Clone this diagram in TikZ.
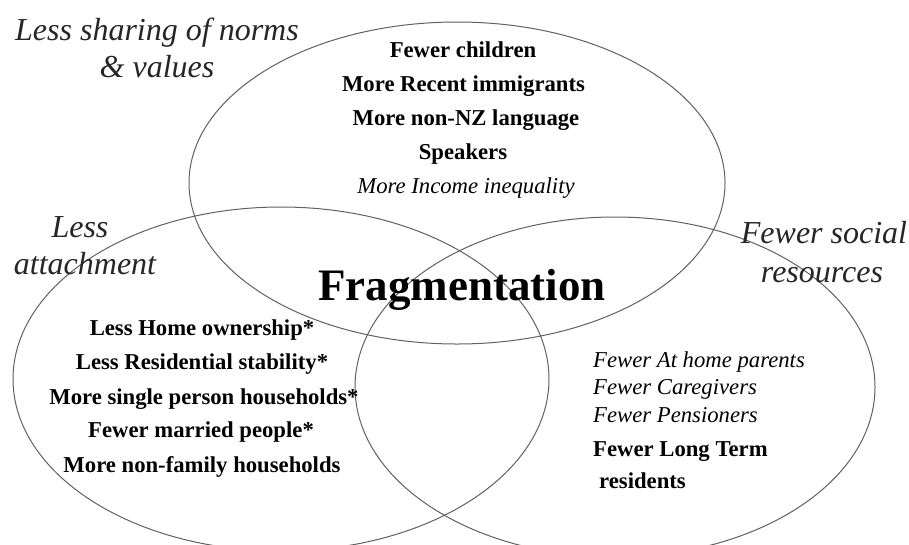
\documentclass[tikz,border=0pt]{standalone}
\usepackage{fontspec}
\setmainfont{Liberation Serif}
\usetikzlibrary{shapes.geometric}
\begin{document}
\begin{tikzpicture}[x=1pt,y=-1pt,
  ring/.style={ellipse, draw=black!62, line width=1pt, inner sep=0pt},
  bodyb/.style={font=\fontsize{22.7}{27}\selectfont\bfseries, inner sep=0pt, anchor=base},
  bodyi/.style={font=\fontsize{22.7}{27}\selectfont\itshape, inner sep=0pt, anchor=base},
  catlabel/.style={font=\fontsize{32}{38}\selectfont\itshape, inner sep=0pt, anchor=base, text=black!85},
]
\useasboundingbox (0,0) rectangle (909,544);
\fill[white] (0,0) rectangle (909,544);
\begin{scope}
  \clip (0,0) rectangle (909,544);
  \node[ring, minimum width=536pt, minimum height=322pt] (norms) at (457,183) {};
  \node[ring, minimum width=536pt, minimum height=344pt] (attach) at (281,379) {};
  \node[ring, minimum width=520pt, minimum height=340pt] (social) at (615,387) {};
\end{scope}

% category labels
\node[catlabel] (c1a) at (157,40) {Less sharing of norms};
\node[catlabel] (c1b) at (157,77) {\& values};
\node[catlabel] (c2a) at (80,237) {Less};
\node[catlabel] (c2b) at (85,274) {attachment};
\node[catlabel] (c3a) at (824,243) {Fewer social};
\node[catlabel] (c3b) at (822,282) {resources};

% top ellipse texts
\node[bodyb] (t1) at (463,57) {Fewer children};
\node[bodyb] (t2) at (463.5,91) {More Recent immigrants};
\node[bodyb] (t3) at (466,125) {More non-NZ language};
\node[bodyb] (t4) at (463,159) {Speakers};
\node[bodyi] (t5) at (466,193) {More Income inequality};

% centre
\node[font=\fontsize{45}{50}\selectfont\bfseries, inner sep=0pt, anchor=base] (frag) at (462,300) {Fragmentation};

% left ellipse texts
\node[bodyb] (l1) at (202,335) {Less Home ownership*};
\node[bodyb] (l2) at (202,369) {Less Residential stability*};
\node[bodyb] (l3) at (204,404) {More single person households*};
\node[bodyb] (l4) at (201,437) {Fewer married people*};
\node[bodyb] (l5) at (202,472) {More non-family households};

% right ellipse texts
\node[bodyi, anchor=base west] (r1) at (593,367) {Fewer At home parents};
\node[bodyi, anchor=base west] (r2) at (593,394) {Fewer Caregivers};
\node[bodyi, anchor=base west] (r3) at (593,422) {Fewer Pensioners};
\node[bodyb, anchor=base west] (r4) at (593,456) {Fewer Long Term};
\node[bodyb, anchor=base west] (r5) at (599,488) {residents};
\end{tikzpicture}
\end{document}
